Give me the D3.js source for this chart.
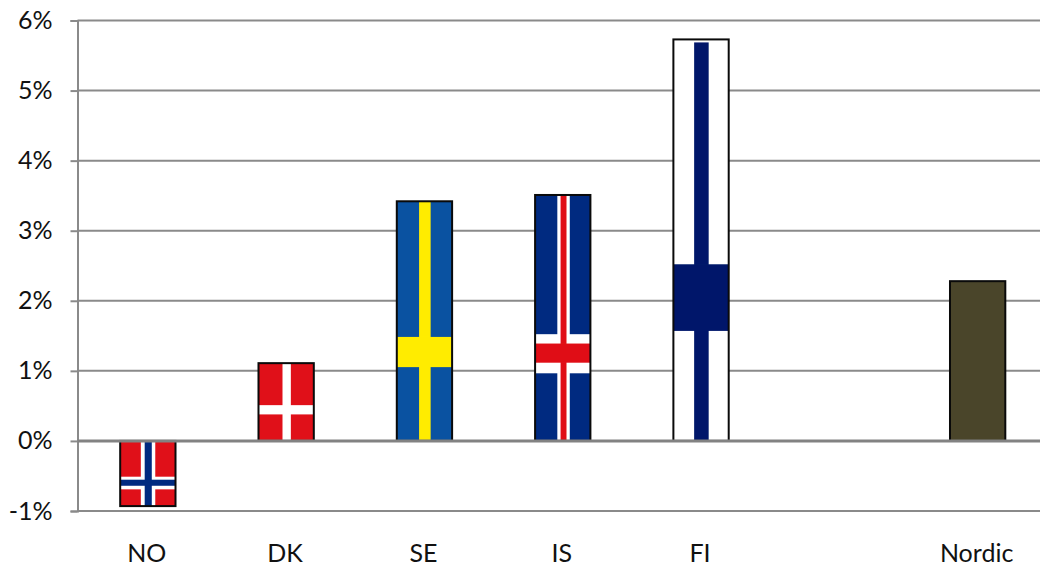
<!DOCTYPE html>
<html>
<head>
<meta charset="utf-8">
<script src="https://d3js.org/d3.v7.min.js"></script>
<style>
    html, body { margin: 0; padding: 0; background: #fff; overflow: hidden; }
    svg { display: block; }
    text { font-family: Lato, sans-serif; fill: #111; }
</style>
</head>
<body>
<div id="container"></div>
<script>
var categories = ["NO", "DK", "SE", "IS", "FI", "", "Nordic"];
var values = [-0.93, 1.11, 3.42, 3.51, 5.73, null, 2.28];
var yTicks = [-1, 0, 1, 2, 3, 4, 5, 6];

var width = 1040, height = 567;

// flag drawing: stripes are fractions of the bar, [start, end]
var flags = {
    NO: { base: "#e01019", stripes: [
        { color: "#fff", v: [.373, .634], h: [.549, .743] },
        { color: "#002a80", v: [.443, .571], h: [.595, .688] }] },
    DK: { base: "#e01019", stripes: [
        { color: "#fff", v: [.434, .585], h: [.54, .659] }] },
    SE: { base: "#0a52a1", stripes: [
        { color: "#ffec00", v: [.403, .612], h: [.566, .692] }] },
    IS: { base: "#002a80", stripes: [
        { color: "#fff", v: [.402, .627], h: [.566, .725] },
        { color: "#e01019", v: [.461, .568], h: [.604, .682] }] },
    FI: { base: "#fff", top: 3, stripes: [
        { color: "#06186a", v: [.375, .638], h: [.56, .726] }] },
    Nordic: { base: "#4a452a", stripes: [] }
};

var x = d3.scaleBand()
    .domain(categories)
    .range([78.7, 1046.8])
    .paddingInner(0.6)
    .paddingOuter(0.3);

var y = d3.scaleLinear()
    .domain([-1, 6])
    .range([511, 20.5]);

var svg = d3.select("div#container")
    .append("svg")
    .attr("width", width)
    .attr("height", height);

// flags in the picture are scaled bitmaps, so soften their edges a little
svg.append("defs")
    .append("filter")
    .attr("id", "soft")
    .append("feGaussianBlur")
    .attr("stdDeviation", 0.4);

// gridlines and ticks, y axis
var yAxis = svg.append("g")
    .attr("transform", "translate(77.5,0)")
    .call(d3.axisLeft(y).tickValues(yTicks).tickSize(7).tickPadding(0).tickFormat(function (d) { return d + "%"; }));

yAxis.select(".domain").attr("stroke", "#8a8a8a").attr("stroke-width", 2);
yAxis.selectAll(".tick line").attr("stroke", "#8a8a8a").attr("stroke-width", 2);
yAxis.selectAll(".tick text")
    .attr("x", -25)
    .style("font-size", "25px")
    .attr("fill", "#111");

svg.selectAll("line.grid")
    .data(yTicks)
    .enter()
    .append("line")
    .attr("class", "grid")
    .attr("x1", 77.5)
    .attr("x2", width)
    .attr("y1", function (d) { return y(d); })
    .attr("y2", function (d) { return y(d); })
    .attr("stroke", "#8a8a8a")
    .attr("stroke-width", 2);

var rows = categories
    .map(function (c, i) { return { name: c, value: values[i] }; })
    .filter(function (d) { return d.value !== null; });

var bars = svg.selectAll("g.bar")
    .data(rows)
    .enter()
    .append("g")
    .attr("class", "bar")
    .attr("transform", function (d) {
        return "translate(" + x(d.name) + "," + Math.min(y(d.value), y(0)) + ")";
    });

var barH = function (d) { return Math.abs(y(d.value) - y(0)); };

bars.append("rect")
    .attr("width", x.bandwidth())
    .attr("height", barH)
    .attr("fill", function (d) { return flags[d.name].base; });

// cross of each flag, one vertical and one horizontal stripe per colour
bars.each(function (d) {
    var g = d3.select(this);
    var w = x.bandwidth(), h = barH(d);
    var top = flags[d.name].top || 0;
    flags[d.name].stripes.forEach(function (s) {
        g.append("rect")
            .attr("x", s.v[0] * w)
            .attr("y", top)
            .attr("width", (s.v[1] - s.v[0]) * w)
            .attr("height", h - top)
            .attr("fill", s.color)
            .attr("filter", "url(#soft)");
        g.append("rect")
            .attr("y", s.h[0] * h)
            .attr("width", w)
            .attr("height", (s.h[1] - s.h[0]) * h)
            .attr("fill", s.color)
            .attr("filter", "url(#soft)");
    });
});

bars.append("rect")
    .attr("width", x.bandwidth())
    .attr("height", barH)
    .attr("fill", "none")
    .attr("stroke", "#0a0a0a")
    .attr("stroke-width", 2);

// zero line goes over the bars
svg.append("line")
    .attr("x1", 77.5)
    .attr("x2", width)
    .attr("y1", y(0))
    .attr("y2", y(0))
    .attr("stroke", "#828282")
    .attr("stroke-width", 3);

svg.selectAll("text.cat")
    .data(rows)
    .enter()
    .append("text")
    .attr("class", "cat")
    .attr("x", function (d) { return x(d.name) + x.bandwidth() / 2 - 1; })
    .attr("y", 562)
    .attr("text-anchor", "middle")
    .style("font-size", "25px")
    .text(function (d) { return d.name; });
</script>
</body>
</html>
